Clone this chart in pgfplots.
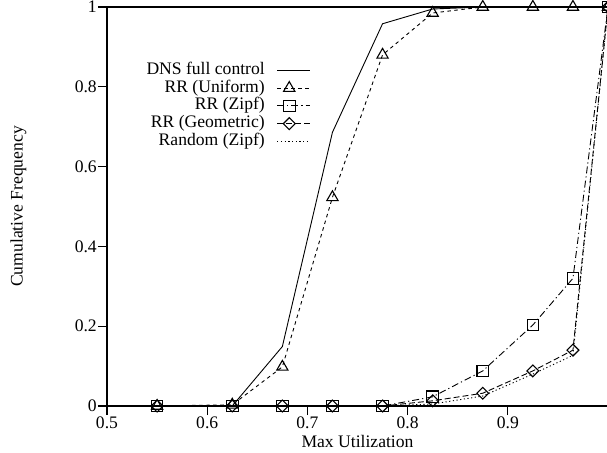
\documentclass[border=0pt]{standalone}
\usepackage{fontspec}
\setmainfont{Liberation Serif}
\usepackage{pgfplots}
\pgfplotsset{compat=1.18}
\begin{document}
\fontsize{17.6}{20}\selectfont
\begin{tikzpicture}
\begin{axis}[
  at={(0,0)}, anchor=south west,
  scale only axis, width=501pt, height=399pt,
  xmin=0.5, xmax=1.0, ymin=0, ymax=1,
  xtick={0.5,0.6,0.7,0.8,0.9}, xticklabels={0.5,0.6,0.7,0.8,0.9},
  ytick={0,0.2,0.4,0.6,0.8,1}, yticklabels={0,0.2,0.4,0.6,0.8,1},
  tick align=outside, tick pos=left, major tick length=9pt,
  axis line style={line width=1.6pt},
  tick style={line width=1.2pt, black},
  /pgf/number format/assume math mode=true,
  ticklabel style={font=\fontsize{17.6}{20}\selectfont, inner sep=0pt},
  xticklabel style={yshift=-2pt},
  yticklabel style={xshift=-1pt},
  xlabel={Max Utilization},
  ylabel={Cumulative Frequency},
  label style={font=\fontsize{17.6}{20}\selectfont, inner sep=0pt},
  xlabel style={at={(axis description cs:0.5,-0.088)}, anchor=center},
  ylabel style={at={(axis description cs:-0.177,0.5)}, anchor=center},
  clip=false,
  legend plot pos=right,
  legend cell align=right,
  legend style={draw=none, fill=none, inner sep=0pt,
    at={(axis description cs:0.407,0.862)}, anchor=north east,
    font=\fontsize{17.6}{20}\selectfont,
    nodes={inner sep=0pt, text height=12pt, text depth=4pt},
    row sep=1.8pt, column sep=12pt},
  legend image code/.code={\draw[mark repeat=2,mark phase=2] plot coordinates {(0pt,0pt) (12pt,0pt) (33pt,0pt)};},
  every axis plot/.append style={line width=0.9pt, black},
]
\addplot[solid] coordinates {(0.55,0)(0.625,0.0)(0.675,0.149)(0.725,0.686)(0.775,0.958)(0.825,0.995)(0.875,1)(0.925,1)(0.965,1)(1.0,1)};
\addlegendentry{DNS full control}
\addplot[dash pattern=on 3.5pt off 3.5pt, mark=triangle, mark size=6.5pt, mark options={solid, line width=1.1pt}] coordinates {(0.55,0)(0.625,0.003)(0.675,0.098)(0.725,0.523)(0.775,0.88)(0.825,0.985)(0.875,1)(0.925,1)(0.965,1)(1.0,1)};
\addlegendentry{RR (Uniform)}
\addplot[dash pattern=on 7pt off 3pt on 1.2pt off 3pt, mark=square, mark size=5.8pt, mark options={solid, line width=1.1pt}] coordinates {(0.55,0)(0.625,0)(0.675,0)(0.725,0)(0.775,0)(0.825,0.023)(0.875,0.088)(0.925,0.203)(0.965,0.32)(1.0,1)};
\addlegendentry{RR (Zipf)}
\addplot[dash pattern=on 6pt off 3pt, mark=square, mark size=4.2pt, mark options={solid, rotate=45, line width=1.1pt}] coordinates {(0.55,0)(0.625,0)(0.675,0)(0.725,0)(0.775,0)(0.825,0.013)(0.875,0.032)(0.925,0.088)(0.965,0.14)(1.0,1)};
\addlegendentry{RR (Geometric)}
\addplot[dash pattern=on 1.2pt off 2.5pt] coordinates {(0.55,0)(0.625,0)(0.675,0)(0.725,0)(0.775,0)(0.825,0.005)(0.875,0.025)(0.925,0.08)(0.965,0.127)(1.0,1)};
\addlegendentry{Random (Zipf)}
\end{axis}
\pgfresetboundingbox
\path[use as bounding box] (-107pt,-46pt) rectangle (500pt,406pt);
\end{tikzpicture}
\end{document}
